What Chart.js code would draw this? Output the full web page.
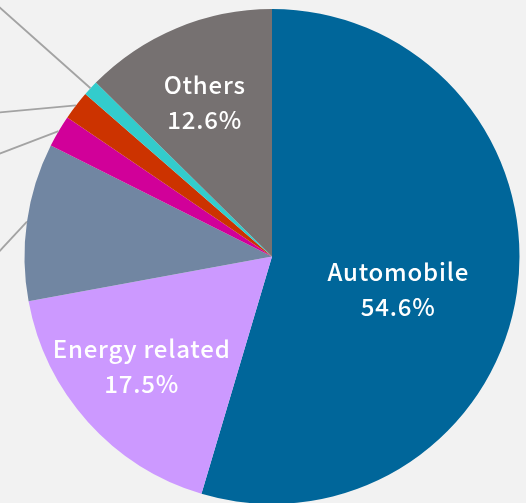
<!DOCTYPE html>
<html>
<head>
<meta charset="utf-8">
<script src="https://cdn.jsdelivr.net/npm/chart.js@4"></script>
<style>
  html, body { margin: 0; padding: 0; background: #f2f2f2; overflow: hidden; }
  #wrap { position: absolute; left: 0; top: 0; width: 526px; height: 505px; }
</style>
</head>
<body>
<div id="wrap"><canvas id="pieChart" width="526" height="505"></canvas></div>
<script>
// shares by application, clockwise from 12 o'clock
const categories = ['Automobile', 'Energy related', 'Industrial equipment', 'Electronics', 'Medical', 'Aerospace', 'Others'];
const shares = [54.6, 17.5, 10.3, 2.1, 1.9, 1.0, 12.6];
const sliceColors = ['#00669a', '#cc99ff', '#7186a2', '#d10099', '#cc3300', '#33cccc', '#767171'];

// which slices get an inside label, and where (radius fraction, angle nudge in degrees)
const insideLabels = { 0: { r: 0.525, a: 6.2 }, 1: { r: 0.689, a: 2.0 }, 6: { r: 0.681, a: -1.0 } };
// outside labels sit off to the left, leader end in radius units from centre
const leaderEnds = { 2: [-1.137, 0.017], 3: [-1.137, -0.402], 4: [-1.137, -0.579], 5: [-1.137, -1.039] };

const labelFont = '500 24px "Noto Sans CJK JP", sans-serif';
const spacing = 0.8;

const pieLabels = {
    id: 'pieLabels',
    afterDatasetsDraw(chart) {
        const ctx = chart.ctx;
        const arcs = chart.getDatasetMeta(0).data;
        ctx.save();

        // leader lines
        ctx.strokeStyle = '#a3a3a3';
        ctx.lineWidth = 1.8;
        Object.keys(leaderEnds).forEach(i => {
            const p = arcs[i].getProps(['x', 'y', 'startAngle', 'endAngle', 'outerRadius'], true);
            const mid = (p.startAngle + p.endAngle) / 2;
            const end = leaderEnds[i];
            ctx.beginPath();
            ctx.moveTo(p.x + Math.cos(mid) * p.outerRadius, p.y + Math.sin(mid) * p.outerRadius);
            ctx.lineTo(p.x + end[0] * p.outerRadius, p.y + end[1] * p.outerRadius);
            ctx.stroke();
        });

        // inside labels
        ctx.fillStyle = '#ffffff';
        ctx.font = labelFont;
        ctx.letterSpacing = spacing + 'px';
        ctx.textAlign = 'center';
        ctx.textBaseline = 'middle';
        Object.keys(insideLabels).forEach(i => {
            const p = arcs[i].getProps(['x', 'y', 'startAngle', 'endAngle', 'outerRadius'], true);
            const place = insideLabels[i];
            const ang = (p.startAngle + p.endAngle) / 2 + place.a * Math.PI / 180;
            const lx = p.x + Math.cos(ang) * p.outerRadius * place.r + spacing / 2;
            const ly = p.y + Math.sin(ang) * p.outerRadius * place.r;
            ctx.fillText(categories[i], lx, ly - 17.5);
            ctx.fillText(shares[i].toFixed(1) + '%', lx, ly + 17.5);
        });
        ctx.restore();
    }
};

new Chart(document.getElementById('pieChart'), {
    type: 'pie',
    data: {
        labels: categories,
        datasets: [{
            data: shares,
            backgroundColor: sliceColors,
            borderWidth: 0
        }]
    },
    options: {
        responsive: false,
        animation: false,
        layout: { padding: { left: 24, right: 6, top: 9, bottom: 1 } },
        plugins: {
            legend: { display: false },
            tooltip: { enabled: false }
        }
    },
    plugins: [pieLabels]
});
</script>
</body>
</html>
